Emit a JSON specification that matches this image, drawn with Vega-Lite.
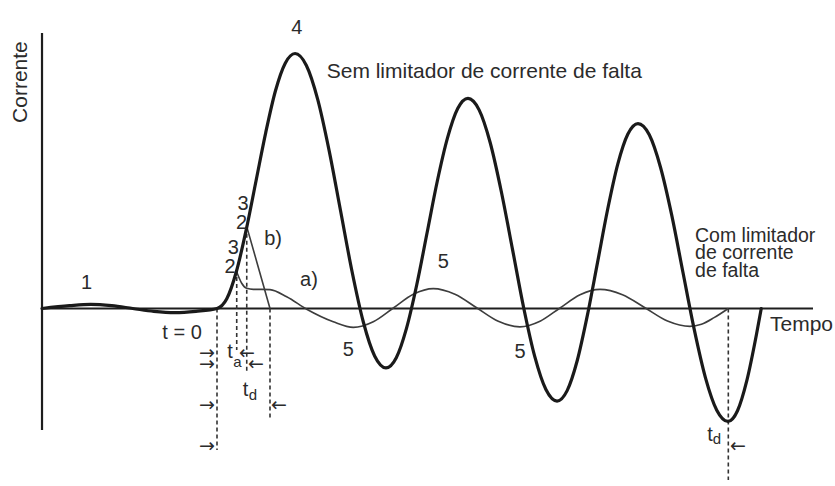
{
  "$schema": "https://vega.github.io/schema/vega-lite/v6.json",
  "width": 835,
  "height": 486,
  "autosize": {"type": "fit", "contains": "padding"},
  "padding": 0,
  "background": "#ffffff",
  "config": {
    "view": {"stroke": null},
    "text": {"font": "Liberation Sans", "color": "#2b2b2b"}
  },
  "datasets": {
    "current": [
      {"curve": "sem", "t": -20.77, "i": 0.0},
      {"curve": "sem", "t": -17.5, "i": 0.11},
      {"curve": "sem", "t": -15.0, "i": 0.16},
      {"curve": "sem", "t": -12.5, "i": 0.11},
      {"curve": "sem", "t": -10.0, "i": 0.0},
      {"curve": "sem", "t": -7.5, "i": -0.11},
      {"curve": "sem", "t": -5.0, "i": -0.16},
      {"curve": "sem", "t": -2.5, "i": -0.11},
      {"curve": "sem", "t": 0.0, "i": 0.0},
      {"curve": "sem", "t": 1.16, "i": 0.38},
      {"curve": "sem", "t": 2.31, "i": 1.46},
      {"curve": "sem", "t": 3.47, "i": 3.09},
      {"curve": "sem", "t": 4.63, "i": 5.0},
      {"curve": "sem", "t": 5.79, "i": 6.91},
      {"curve": "sem", "t": 6.94, "i": 8.54},
      {"curve": "sem", "t": 8.1, "i": 9.62},
      {"curve": "sem", "t": 9.26, "i": 10.0},
      {"curve": "sem", "t": 10.61, "i": 9.53},
      {"curve": "sem", "t": 11.96, "i": 8.19},
      {"curve": "sem", "t": 13.31, "i": 6.19},
      {"curve": "sem", "t": 14.66, "i": 3.84},
      {"curve": "sem", "t": 16.01, "i": 1.48},
      {"curve": "sem", "t": 17.36, "i": -0.52},
      {"curve": "sem", "t": 18.71, "i": -1.86},
      {"curve": "sem", "t": 20.06, "i": -2.33},
      {"curve": "sem", "t": 21.28, "i": -1.93},
      {"curve": "sem", "t": 22.49, "i": -0.78},
      {"curve": "sem", "t": 23.71, "i": 0.93},
      {"curve": "sem", "t": 24.93, "i": 2.96},
      {"curve": "sem", "t": 26.14, "i": 4.98},
      {"curve": "sem", "t": 27.36, "i": 6.69},
      {"curve": "sem", "t": 28.57, "i": 7.84},
      {"curve": "sem", "t": 29.79, "i": 8.24},
      {"curve": "sem", "t": 31.11, "i": 7.79},
      {"curve": "sem", "t": 32.43, "i": 6.5},
      {"curve": "sem", "t": 33.75, "i": 4.58},
      {"curve": "sem", "t": 35.08, "i": 2.31},
      {"curve": "sem", "t": 36.4, "i": 0.03},
      {"curve": "sem", "t": 37.72, "i": -1.89},
      {"curve": "sem", "t": 39.04, "i": -3.18},
      {"curve": "sem", "t": 40.36, "i": -3.63},
      {"curve": "sem", "t": 41.56, "i": -3.22},
      {"curve": "sem", "t": 42.76, "i": -2.04},
      {"curve": "sem", "t": 43.96, "i": -0.27},
      {"curve": "sem", "t": 45.17, "i": 1.81},
      {"curve": "sem", "t": 46.37, "i": 3.89},
      {"curve": "sem", "t": 47.57, "i": 5.66},
      {"curve": "sem", "t": 48.77, "i": 6.84},
      {"curve": "sem", "t": 49.97, "i": 7.25},
      {"curve": "sem", "t": 51.31, "i": 6.81},
      {"curve": "sem", "t": 52.64, "i": 5.54},
      {"curve": "sem", "t": 53.98, "i": 3.65},
      {"curve": "sem", "t": 55.31, "i": 1.41},
      {"curve": "sem", "t": 56.65, "i": -0.83},
      {"curve": "sem", "t": 57.98, "i": -2.72},
      {"curve": "sem", "t": 59.32, "i": -3.99},
      {"curve": "sem", "t": 60.65, "i": -4.43},
      {"curve": "sem", "t": 61.78, "i": -4.01},
      {"curve": "sem", "t": 62.9, "i": -2.81},
      {"curve": "sem", "t": 64.03, "i": -1.02},
      {"curve": "sem", "t": 64.6, "i": 0.0},

      {"curve": "a", "t": 2.31, "i": 1.46},
      {"curve": "a", "t": 2.93, "i": 0.99},
      {"curve": "a", "t": 3.53, "i": 0.79},
      {"curve": "a", "t": 4.31, "i": 0.75},
      {"curve": "a", "t": 5.3, "i": 0.75},
      {"curve": "a", "t": 6.29, "i": 0.74},
      {"curve": "a", "t": 8.27, "i": 0.46},
      {"curve": "a", "t": 10.65, "i": -0.03},
      {"curve": "a", "t": 13.8, "i": -0.52},
      {"curve": "a", "t": 16.18, "i": -0.74},
      {"curve": "a", "t": 18.55, "i": -0.52},
      {"curve": "a", "t": 20.93, "i": 0.02},
      {"curve": "a", "t": 23.3, "i": 0.56},
      {"curve": "a", "t": 25.67, "i": 0.78},
      {"curve": "a", "t": 28.24, "i": 0.56},
      {"curve": "a", "t": 30.82, "i": 0.03},
      {"curve": "a", "t": 33.39, "i": -0.5},
      {"curve": "a", "t": 35.96, "i": -0.72},
      {"curve": "a", "t": 38.34, "i": -0.5},
      {"curve": "a", "t": 40.71, "i": 0.02},
      {"curve": "a", "t": 43.09, "i": 0.54},
      {"curve": "a", "t": 45.46, "i": 0.75},
      {"curve": "a", "t": 48.13, "i": 0.54},
      {"curve": "a", "t": 50.8, "i": 0.03},
      {"curve": "a", "t": 53.47, "i": -0.49},
      {"curve": "a", "t": 56.14, "i": -0.7},
      {"curve": "a", "t": 57.5, "i": -0.62},
      {"curve": "a", "t": 59.0, "i": -0.36},
      {"curve": "a", "t": 60.69, "i": 0.0},

      {"curve": "b", "t": 3.53, "i": 3.21},
      {"curve": "b", "t": 4.9, "i": 1.62},
      {"curve": "b", "t": 6.29, "i": 0.0}
    ],
    "axesLines": [
      {"t": -20.77, "t2": -20.77, "i": 10.8, "i2": -4.76},
      {"t": -20.77, "t2": 70.74, "i": 0.0, "i2": 0.0}
    ],
    "markers": [
      {"mark": "t = 0", "t": 0.0, "i": 0.0, "i2": -5.55},
      {"mark": "ta", "t": 2.34, "i": 1.51, "i2": -1.63},
      {"mark": "td", "t": 3.53, "i": 3.21, "i2": -2.49},
      {"mark": "b", "t": 6.29, "i": 0.0, "i2": -4.37},
      {"mark": "td end", "t": 60.69, "i": 0.0, "i2": -6.73}
    ],
    "labels": [
      {"label": "1", "t": -15.47, "i": 0.99},
      {"label": "t = 0", "t": -4.15, "i": -0.96},
      {"label": "4", "t": 9.46, "i": 10.99},
      {"label": "3", "t": 3.09, "i": 4.1},
      {"label": "2", "t": 2.93, "i": 3.37},
      {"label": "3", "t": 1.93, "i": 2.39},
      {"label": "2", "t": 1.54, "i": 1.64},
      {"label": "b)", "t": 6.65, "i": 2.73},
      {"label": "a)", "t": 10.92, "i": 1.12},
      {"label": "5", "t": 15.58, "i": -1.63},
      {"label": "5", "t": 26.86, "i": 1.84},
      {"label": "5", "t": 35.96, "i": -1.69},
      {"label": "t", "t": 1.54, "i": -1.71},
      {"label": "t", "t": 3.38, "i": -3.2},
      {"label": "t", "t": 58.52, "i": -4.96}
    ],
    "subscripts": [
      {"label": "a", "t": 2.43, "i": -2.1},
      {"label": "d", "t": 4.27, "i": -3.39},
      {"label": "d", "t": 59.35, "i": -5.1}
    ],
    "captions": [
      {"label": "Sem limitador de corrente de falta", "t": 13.02, "i": 9.29},
      {"label": "Tempo", "t": 65.64, "i": -0.65}
    ],
    "sideNote": [
      {"label": "Com limitador", "t": 56.74, "i": 2.86},
      {"label": "de corrente", "t": 56.74, "i": 2.18},
      {"label": "de falta", "t": 56.74, "i": 1.47}
    ],
    "arrows": [
      {"label": "→", "t": -1.19, "i": -1.745},
      {"label": "→", "t": -1.19, "i": -2.18},
      {"label": "→", "t": -1.19, "i": -3.78},
      {"label": "→", "t": -1.19, "i": -5.39},
      {"label": "←", "t": 3.56, "i": -1.745},
      {"label": "←", "t": 4.63, "i": -2.18},
      {"label": "←", "t": 7.36, "i": -3.78},
      {"label": "←", "t": 61.84, "i": -5.39}
    ],
    "yTitle": [
      {"label": "Corrente", "t": -23.26, "i": 8.88}
    ]
  },
  "encoding": {
    "x": {"field": "t", "type": "quantitative", "axis": null,
          "scale": {"domain": [-25.757, 73.353], "nice": false, "zero": false}},
    "y": {"field": "i", "type": "quantitative", "axis": null,
          "scale": {"domain": [-6.961, 12.098], "nice": false, "zero": false}}
  },
  "layer": [
    {
      "data": {"name": "axesLines"},
      "mark": {"type": "rule", "stroke": "#1e1e1e", "strokeWidth": 2.2},
      "encoding": {"x2": {"field": "t2"}, "y2": {"field": "i2"}}
    },
    {
      "data": {"name": "markers"},
      "mark": {"type": "rule", "stroke": "#333333", "strokeWidth": 1.6, "strokeDash": [4, 3]},
      "encoding": {"y2": {"field": "i2"}}
    },
    {
      "data": {"name": "current"},
      "transform": [{"filter": "datum.curve === 'a'"}],
      "mark": {"type": "line", "interpolate": "monotone", "stroke": "#3d3d3d", "strokeWidth": 1.6}
    },
    {
      "data": {"name": "current"},
      "transform": [{"filter": "datum.curve === 'b'"}],
      "mark": {"type": "line", "stroke": "#3d3d3d", "strokeWidth": 1.6}
    },
    {
      "data": {"name": "current"},
      "transform": [{"filter": "datum.curve === 'sem'"}],
      "mark": {"type": "line", "interpolate": "monotone", "stroke": "#1a1a1a", "strokeWidth": 3.2,
               "strokeCap": "round", "strokeJoin": "round"}
    },
    {
      "data": {"name": "labels"},
      "mark": {"type": "text", "fontSize": 20, "align": "center", "baseline": "middle"},
      "encoding": {"text": {"field": "label"}}
    },
    {
      "data": {"name": "subscripts"},
      "mark": {"type": "text", "fontSize": 15, "align": "center", "baseline": "middle"},
      "encoding": {"text": {"field": "label"}}
    },
    {
      "data": {"name": "captions"},
      "mark": {"type": "text", "fontSize": 21, "align": "left", "baseline": "middle"},
      "encoding": {"text": {"field": "label"}}
    },
    {
      "data": {"name": "sideNote"},
      "mark": {"type": "text", "fontSize": 19.5, "align": "left", "baseline": "middle"},
      "encoding": {"text": {"field": "label"}}
    },
    {
      "data": {"name": "arrows"},
      "mark": {"type": "text", "fontSize": 19, "align": "center", "baseline": "middle", "font": "DejaVu Sans"},
      "encoding": {"text": {"field": "label"}}
    },
    {
      "data": {"name": "yTitle"},
      "mark": {"type": "text", "fontSize": 21, "align": "center", "baseline": "middle", "angle": 270},
      "encoding": {"text": {"field": "label"}}
    }
  ]
}
